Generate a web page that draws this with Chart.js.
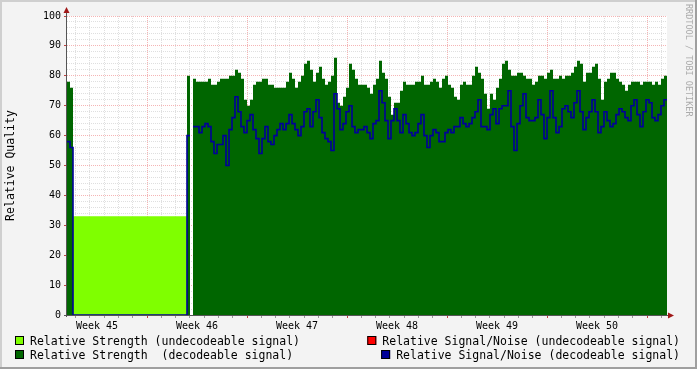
<!DOCTYPE html>
<html>
<head>
<meta charset="utf-8">
<script src="https://cdn.jsdelivr.net/npm/chart.js@4"></script>
<style>
  html, body { margin: 0; padding: 0; background: #f3f3f3; }
  #wrap { position: relative; width: 697px; height: 369px; }
</style>
</head>
<body>
<div id="wrap"><canvas id="quality" width="697" height="369"></canvas></div>
<script>
// time axis in days from the left edge of the graph, samples ~5h apart
const sampleStart = 0;
const sampleStep = 0.21;
const weekLabels = ['Week 45', 'Week 46', 'Week 47', 'Week 48', 'Week 49', 'Week 50'];
const weekMiddles = [2.1, 9.1, 16.1, 23.1, 30.1, 37.1];
const weekStarts = [5.6, 12.6, 19.6, 26.6, 33.6, 40.6];
const firstDay = 0.6;

const strengthUndecodeable = [
  null, null,
  33, 33, 33, 33, 33, 33, 33, 33, 33, 33, 33, 33, 33, 33, 33, 33, 33, 33, 33, 33,
  33, 33, 33, 33, 33, 33, 33, 33, 33, 33, 33, 33, 33, 33, 33, 33, 33, 33,
  null, null
];

const strengthDecodeable = [
  78, 76,
  null, null, null, null, null, null, null, null, null, null, null, null, null, null, null, null, null, null, null, null,
  null, null, null, null, null, null, null, null, null, null, null, null, null, null, null, null, null, null,
  80, null,
  79, 78, 78, 78, 78, 79, 77, 77, 78, 79,
  79, 79, 80, 80, 82, 81, 79, 72, 70, 72,
  77, 78, 78, 79, 79, 77, 77, 76, 76, 76,
  76, 78, 81, 79, 76, 78, 80, 84, 85, 82,
  78, 81, 83, 79, 77, 78, 80, 86, 71, 70,
  73, 76, 84, 82, 79, 77, 77, 77, 76, 74,
  77, 79, 85, 81, 79, 73, 67, 71, 71, 75,
  78, 77, 77, 77, 78, 78, 80, 77, 77, 78,
  79, 78, 76, 79, 80, 77, 76, 73, 72, 77,
  78, 77, 77, 80, 83, 81, 79, 74, 69, 74,
  72, 76, 79, 84, 85, 82, 80, 80, 81, 81,
  80, 79, 79, 77, 78, 80, 80, 79, 81, 82,
  79, 79, 80, 79, 80, 80, 81, 83, 85, 84,
  78, 81, 81, 83, 84, 79, 72, 78, 79, 81,
  81, 79, 78, 77, 75, 77, 78, 78, 78, 77,
  78, 78, 78, 77, 78, 77, 79, 80
];

const snrUndecodeable = [];

const snrDecodeable = [
  58, 56,
  0, 0, 0, 0, 0, 0, 0, 0, 0, 0, 0, 0, 0, 0, 0, 0, 0, 0, 0, 0,
  0, 0, 0, 0, 0, 0, 0, 0, 0, 0, 0, 0, 0, 0, 0, 0, 0, 0,
  60, null,
  63, 63, 61, 63, 64, 63, 58, 54, 57, 57,
  60, 50, 62, 66, 73, 68, 63, 61, 65, 67,
  62, 59, 54, 59, 63, 58, 57, 60, 62, 64,
  62, 64, 67, 64, 62, 60, 63, 68, 69, 63,
  68, 72, 66, 61, 59, 58, 55, 74, 69, 62,
  64, 68, 70, 63, 61, 62, 62, 63, 61, 59,
  64, 65, 75, 71, 65, 59, 65, 69, 65, 61,
  67, 64, 61, 60, 61, 64, 67, 60, 56, 60,
  62, 61, 58, 58, 61, 62, 61, 63, 63, 66,
  64, 63, 64, 66, 68, 72, 63, 63, 62, 67,
  69, 64, 69, 70, 70, 75, 63, 55, 64, 70,
  74, 66, 65, 65, 66, 72, 67, 59, 66, 75,
  66, 61, 63, 69, 70, 68, 66, 71, 75, 68,
  62, 66, 68, 72, 68, 61, 63, 68, 65, 63,
  64, 67, 69, 68, 66, 65, 70, 72, 67, 63,
  68, 72, 71, 66, 65, 67, 70, 72
];

// rrdtool style steps: each sample is held flat for its whole interval
function steps(vals) {
  const pts = [];
  vals.forEach((v, i) => {
    const t0 = sampleStart + i * sampleStep;
    if (v === null) { pts.push({ x: t0, y: null }); return; }
    pts.push({ x: t0, y: v }, { x: t0 + sampleStep, y: v });
  });
  return pts;
}

const FONT = '"DejaVu Sans Mono", monospace';
const MINOR = 'rgba(170,170,170,0.38)';
const MAJOR = 'rgba(230,60,60,0.38)';

const dayTicks = [];
for (let d = firstDay; d < 42; d += 1) dayTicks.push(+d.toFixed(2));

// drawOrder: lower is painted later (on top)
const series = [
  { label: 'Relative Strength (undecodeable signal)', color: '#7fff00', data: strengthUndecodeable, area: true, drawOrder: 3 },
  { label: 'Relative Strength  (decodeable signal)', color: '#006600', data: strengthDecodeable, area: true, drawOrder: 2 },
  { label: 'Relative Signal/Noise (undecodeable signal)', color: '#ff0000', data: snrUndecodeable, area: false, drawOrder: 1 },
  { label: 'Relative Signal/Noise (decodeable signal)', color: '#000099', data: snrDecodeable, area: false, drawOrder: 0 }
];

const rrdFrame = {
  id: 'rrdFrame',
  beforeDraw(chart) {
    const { ctx, chartArea: a } = chart;
    ctx.save();
    ctx.fillStyle = '#f3f3f3';
    ctx.fillRect(0, 0, 697, 369);
    ctx.fillStyle = '#ffffff';
    ctx.fillRect(a.left, a.top, a.right - a.left, a.bottom - a.top);
    ctx.fillStyle = '#cfcfcf';
    ctx.fillRect(0, 0, 697, 2);
    ctx.fillRect(0, 0, 2, 369);
    ctx.fillStyle = '#9f9f9f';
    ctx.fillRect(0, 367, 697, 2);
    ctx.fillRect(695, 0, 2, 369);
    ctx.restore();
  },
  afterDraw(chart) {
    const { ctx, chartArea: a } = chart;
    ctx.save();
    // axes with arrows
    ctx.strokeStyle = '#555555';
    ctx.lineWidth = 1;
    ctx.beginPath();
    ctx.moveTo(a.left - 0.5, a.bottom + 2);
    ctx.lineTo(a.left - 0.5, a.top - 5);
    ctx.moveTo(a.left - 3, a.bottom + 0.5);
    ctx.lineTo(a.right + 3, a.bottom + 0.5);
    ctx.stroke();
    ctx.fillStyle = '#a01818';
    ctx.beginPath();
    ctx.moveTo(a.left - 0.5, a.top - 9);
    ctx.lineTo(a.left - 3.5, a.top - 3);
    ctx.lineTo(a.left + 2.5, a.top - 3);
    ctx.closePath();
    ctx.fill();
    ctx.beginPath();
    ctx.moveTo(a.right + 7, a.bottom + 0.5);
    ctx.lineTo(a.right + 1, a.bottom - 2.5);
    ctx.lineTo(a.right + 1, a.bottom + 3.5);
    ctx.closePath();
    ctx.fill();

    // legend, two columns like rrdtool
    ctx.font = '11.5px ' + FONT;
    ctx.textBaseline = 'alphabetic';
    const rows = [345, 359];
    const drawItem = (s, x, y) => {
      ctx.fillStyle = s.color;
      ctx.fillRect(x - 15, y - 9, 9, 9);
      ctx.strokeStyle = '#000000';
      ctx.strokeRect(x - 14.5, y - 8.5, 8, 8);
      ctx.fillStyle = '#000000';
      ctx.fillText(s.label, x, y);
    };
    drawItem(series[0], 30, rows[0]);
    drawItem(series[1], 30, rows[1]);
    drawItem(series[2], 680 - ctx.measureText(series[2].label).width, rows[0]);
    drawItem(series[3], 680 - ctx.measureText(series[3].label).width, rows[1]);

    // watermark
    ctx.translate(688, 4);
    ctx.rotate(Math.PI / 2);
    ctx.font = '8.5px ' + FONT;
    ctx.fillStyle = '#ababab';
    ctx.textBaseline = 'middle';
    ctx.fillText('RRDTOOL / TOBI OETIKER', 0, 0);
    ctx.restore();
  }
};

new Chart(document.getElementById('quality'), {
  type: 'line',
  data: {
    datasets: series.map(s => ({
      label: s.label,
      data: steps(s.data),
      order: s.drawOrder,
      borderColor: s.area ? 'rgba(0,0,0,0)' : s.color,
      borderWidth: s.area ? 0 : 1.6,
      backgroundColor: s.color,
      fill: s.area ? 'origin' : false,
      pointRadius: 0,
      tension: 0,
      spanGaps: false
    }))
  },
  options: {
    responsive: false,
    animation: false,
    devicePixelRatio: 1,
    layout: { padding: { left: 0, right: 30, top: 16, bottom: 0 } },
    plugins: { legend: { display: false }, tooltip: { enabled: false } },
    scales: {
      x: {
        type: 'linear',
        min: 0,
        max: 42,
        z: 1,
        afterBuildTicks: s => {
          s.ticks = dayTicks.concat(weekMiddles).sort((a, b) => a - b).map(v => ({ value: v }));
        },
        afterFit: s => { s.height = 54; },
        border: { display: false, dash: [1, 1] },
        grid: {
          lineWidth: 1,
          tickLength: 3,
          color: c => {
            const v = +c.tick.value.toFixed(2);
            if (weekMiddles.includes(v)) return 'rgba(0,0,0,0)';
            return weekStarts.includes(v) ? MAJOR : MINOR;
          },
          tickColor: c => {
            const v = +c.tick.value.toFixed(2);
            if (weekMiddles.includes(v)) return 'rgba(0,0,0,0)';
            return weekStarts.includes(v) ? '#c04040' : '#999999';
          }
        },
        ticks: {
          autoSkip: false,
          maxRotation: 0,
          padding: 2,
          color: '#000000',
          font: { family: FONT, size: 10 },
          callback: v => {
            const i = weekMiddles.indexOf(+(+v).toFixed(2));
            return i >= 0 ? weekLabels[i] : '';
          }
        }
      },
      y: {
        min: 0,
        max: 100,
        z: 1,
        afterFit: s => { s.width = 67; },
        border: { display: false, dash: [1, 1] },
        grid: {
          lineWidth: 1,
          tickLength: 3,
          color: c => (c.tick.value % 10 === 0 ? MAJOR : MINOR),
          tickColor: c => (c.tick.value % 10 === 0 ? '#c04040' : 'rgba(0,0,0,0)')
        },
        ticks: {
          stepSize: 2,
          autoSkip: false,
          padding: 3,
          color: '#000000',
          font: { family: FONT, size: 10 },
          callback: v => (v % 10 === 0 ? String(v) : '')
        },
        title: {
          display: true,
          text: 'Relative Quality',
          color: '#000000',
          font: { family: FONT, size: 11.5 },
          padding: { top: 4, bottom: 0 }
        }
      }
    }
  },
  plugins: [rrdFrame]
});
</script>
</body>
</html>
